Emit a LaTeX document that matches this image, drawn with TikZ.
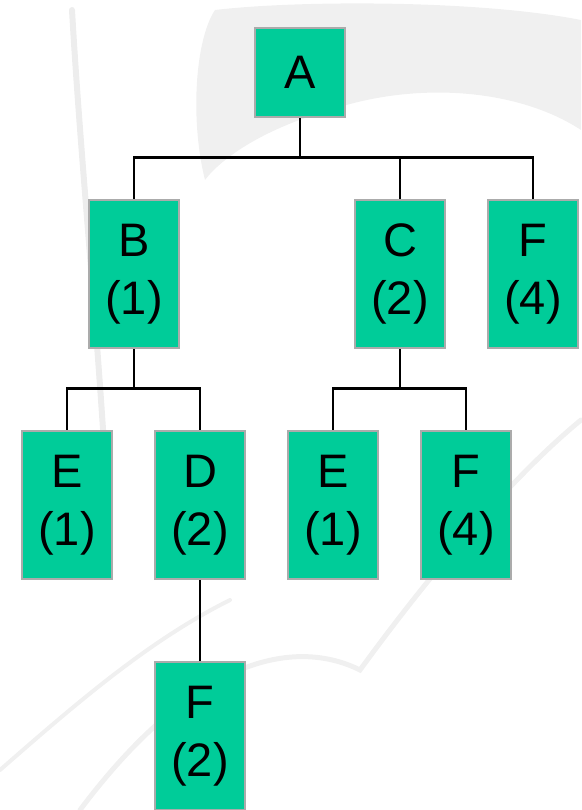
\documentclass[tikz,border=0pt]{standalone}
\usepackage{fontspec}
\setmainfont{Liberation Sans}
\begin{document}
\begin{tikzpicture}[x=1pt,y=-1pt,
  box/.style={draw=black!33, line width=2.5pt, fill=boxgreen, minimum width=90pt,
    inner sep=0pt, align=center, font=\fontsize{47}{58}\selectfont},
  tall/.style={box, minimum height=148pt},
  short/.style={box, minimum height=89pt},
  link/.style={line width=2.6pt, black}]
\definecolor{boxgreen}{HTML}{00CC99}
\useasboundingbox (0,0) rectangle (581,810);
% faint backdrop strokes
\begin{scope}[line cap=round, black!8]
  \fill[black!6] (215,10) .. controls (300,0) and (480,0) .. (581,20) -- (581,130)
    .. controls (520,90) and (420,80) .. (330,110) .. controls (260,130) and (220,160) .. (205,180)
    .. controls (190,120) and (195,40) .. (215,10);
  \draw[line width=6pt, black!7] (72,10) .. controls (80,150) and (95,300) .. (105,460);
  \draw[line width=5pt, black!6] (80,810) .. controls (200,650) and (300,640) .. (360,670)
    .. controls (440,560) and (520,470) .. (581,420);
  \draw[line width=4pt, black!6] (0,770) .. controls (80,700) and (150,640) .. (230,600);
\end{scope}
% nodes
\node[short] (A)  at (300,72.5) {A};
\node[tall]  (B)  at (134,274)  {B\\(1)};
\node[tall]  (C)  at (400,274)  {C\\(2)};
\node[tall]  (F1) at (533,274)  {F\\(4)};
\node[tall]  (E1) at (67,505)   {E\\(1)};
\node[tall]  (D)  at (200,505)  {D\\(2)};
\node[tall]  (E2) at (333,505)  {E\\(1)};
\node[tall]  (F2) at (466,505)  {F\\(4)};
\node[tall]  (F3) at (200,736)  {F\\(2)};
% connectors
\draw[link] (A.south) -- ++(0,39) coordinate (ja);
\draw[link] (B.north) |- (ja) -| (F1.north);
\draw[link] (C.north) -- (C.north |- ja);
\draw[link] (B.south) -- ++(0,39) coordinate (jb);
\draw[link] (E1.north) |- (jb) -| (D.north);
\draw[link] (C.south) -- ++(0,39) coordinate (jc);
\draw[link] (E2.north) |- (jc) -| (F2.north);
\draw[link] (D.south) -- (F3.north);
\end{tikzpicture}
\end{document}
